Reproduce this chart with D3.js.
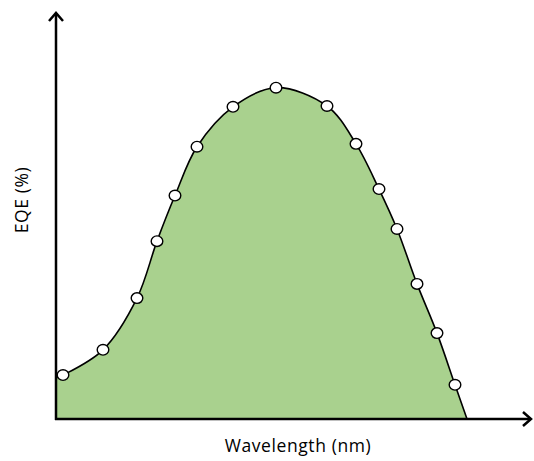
<!DOCTYPE html>
<html>
<head>
<meta charset="utf-8">
<script src="https://cdn.jsdelivr.net/npm/d3@7/dist/d3.min.js"></script>
<style>
  html, body { margin: 0; padding: 0; background: #fff; }
  svg { display: block; }
  text { font-family: "Open Sans", "Lato", sans-serif; fill: #000; }
</style>
</head>
<body>
<svg id="chart" width="534" height="461"></svg>
<script>
// Curve (wavelength nm, EQE %), including start and end of the curve
const curveWavelength = [300, 307, 347, 381, 401, 419, 441, 477, 520, 571, 600, 623, 641, 661, 681, 699, 711];
const curveEQE        = [10.1, 10.8, 17.0, 29.7, 43.7, 54.9, 66.9, 76.7, 81.4, 76.9, 67.6, 56.5, 46.7, 33.2, 21.1, 8.4, 0];
// Measured markers
const pointWavelength = [307, 347, 381, 401, 419, 441, 477, 520, 571, 600, 623, 641, 661, 681, 699];
const pointEQE        = [10.8, 17.0, 29.7, 43.7, 54.9, 66.9, 76.7, 81.4, 76.9, 67.6, 56.5, 46.7, 33.2, 21.1, 8.4];
const xLabel = "Wavelength (nm)";
const yLabel = "EQE (%)";

const svg = d3.select("#chart");
const x = d3.scaleLinear().domain([300, 776]).range([56, 532]);
const y = d3.scaleLinear().domain([0, 100]).range([419, 12]);

const curveData = curveWavelength.map((w, i) => ({ w, e: curveEQE[i] }));
const pointData = pointWavelength.map((w, i) => ({ w, e: pointEQE[i] }));

const area = d3.area()
  .x(d => x(d.w)).y0(y(0)).y1(d => y(d.e))
  .curve(d3.curveCatmullRom.alpha(0.5));
const line = d3.line()
  .x(d => x(d.w)).y(d => y(d.e))
  .curve(d3.curveCatmullRom.alpha(0.5));

svg.append("path").datum(curveData)
  .attr("d", area).attr("fill", "#a9d18e").attr("stroke", "none");
svg.append("path").datum(curveData)
  .attr("d", line).attr("fill", "none").attr("stroke", "#000").attr("stroke-width", 1.6);

// Axes
const x0 = x.range()[0], x1 = x.range()[1];
const y0 = y.range()[0], y1 = y.range()[1];
svg.append("line").attr("x1", x0).attr("y1", y0 + 1).attr("x2", x0).attr("y2", y1 + 1)
  .attr("stroke", "#000").attr("stroke-width", 2.5);
svg.append("line").attr("x1", x0 - 1).attr("y1", y0).attr("x2", x1 - 1).attr("y2", y0)
  .attr("stroke", "#000").attr("stroke-width", 2.5);
// arrow heads (open chevrons)
svg.append("path")
  .attr("d", `M${x0 - 7},${y1 + 9} L${x0},${y1 + 1} L${x0 + 7},${y1 + 9}`)
  .attr("fill", "none").attr("stroke", "#000").attr("stroke-width", 2.5);
svg.append("path")
  .attr("d", `M${x1 - 9},${y0 - 7} L${x1 - 1},${y0} L${x1 - 9},${y0 + 7}`)
  .attr("fill", "none").attr("stroke", "#000").attr("stroke-width", 2.5);

// markers
svg.selectAll("ellipse.pt").data(pointData).enter().append("ellipse")
  .attr("class", "pt")
  .attr("cx", d => x(d.w)).attr("cy", d => y(d.e))
  .attr("rx", 5.8).attr("ry", 5.3)
  .attr("fill", "#fff").attr("stroke", "#000").attr("stroke-width", 1.4);

// labels
svg.append("text").attr("x", 298).attr("y", 452)
  .attr("text-anchor", "middle").attr("font-size", 17.5).attr("letter-spacing", 0.6).text(xLabel);
svg.append("text").attr("transform", "translate(28,200) rotate(-90)")
  .attr("text-anchor", "middle").attr("font-size", 17.5).attr("letter-spacing", 0.6).text(yLabel);
</script>
</body>
</html>
